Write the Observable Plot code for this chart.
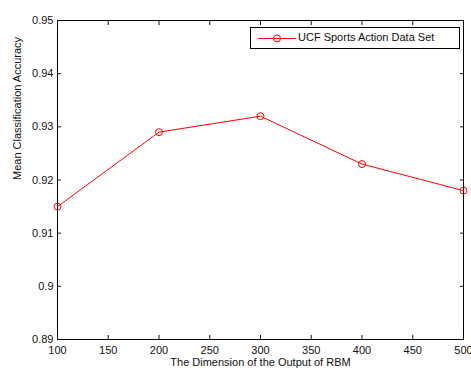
<!DOCTYPE html>
<html>
<head>
<meta charset="utf-8">
<script src="https://cdn.jsdelivr.net/npm/d3@7"></script>
<script src="https://cdn.jsdelivr.net/npm/@observablehq/plot@0.6"></script>
<style>
  html, body { margin: 0; padding: 0; background: #fff; }
  #wrap { position: relative; width: 471px; height: 371px; font-family: "Liberation Sans", Arial, sans-serif; }
  #legend { position: absolute; left: 250px; top: 27px; width: 208px; height: 20px; border: 1px solid #000; background: #fff; box-sizing: content-box; }
  #legend svg { position: absolute; left: 0; top: 0; }
  #legend span { position: absolute; left: 47px; top: 3px; font-size: 11px; color: #111; white-space: nowrap; }
</style>
</head>
<body>
<div id="wrap"></div>
<script>
const dims = [100, 200, 300, 400, 500];
const accuracy = [0.915, 0.929, 0.932, 0.923, 0.918];
const xTicks = [100, 150, 200, 250, 300, 350, 400, 450, 500];
const yTicks = [0.89, 0.9, 0.91, 0.92, 0.93, 0.94, 0.95];
const seriesName = "UCF Sports Action Data Set";
const xLabel = "The Dimension of the Output of RBM";
const yLabel = "Mean Classification Accuracy";

const data = dims.map((d, i) => ({dim: d, acc: accuracy[i]}));
const red = "#ff0000";

const chart = Plot.plot({
  width: 471,
  height: 371,
  marginLeft: 57,
  marginRight: 8,
  marginTop: 20,
  marginBottom: 32,
  style: {fontFamily: "Liberation Sans, Arial, sans-serif", fontSize: "11px", color: "#111", background: "#fff"},
  x: {domain: [100, 500]},
  y: {domain: [0.89, 0.95]},
  marks: [
    Plot.frame({stroke: "#000"}),
    Plot.axisX(xTicks, {anchor: "bottom", tickSize: -4, tickPadding: 11, tickFormat: d => String(d), label: null}),
    Plot.axisX(xTicks, {anchor: "top", tickSize: -4, tickFormat: () => "", label: null}),
    Plot.axisY(yTicks, {anchor: "left", tickSize: -4, tickPadding: 8, tickFormat: d => String(d), label: null}),
    Plot.axisY(yTicks, {anchor: "right", tickSize: -4, tickFormat: () => "", label: null}),
    Plot.text([xLabel], {frameAnchor: "bottom", dy: 26, fill: "#111", fontSize: 11}),
    Plot.text([yLabel], {frameAnchor: "left", dx: -40, rotate: -90, fill: "#111", fontSize: 11}),
    Plot.line(data, {x: "dim", y: "acc", stroke: red, strokeWidth: 1}),
    Plot.dot(data, {x: "dim", y: "acc", stroke: red, fill: "none", r: 3.5, strokeWidth: 1})
  ]
});

const wrap = document.getElementById("wrap");
wrap.appendChild(chart);

const legend = document.createElement("div");
legend.id = "legend";
legend.innerHTML = `<svg width="48" height="20"><line x1="7" x2="45" y1="10.5" y2="10.5" stroke="${red}" stroke-width="1"/><circle cx="26" cy="10.5" r="3.5" fill="none" stroke="${red}"/></svg><span></span>`;
legend.querySelector("span").textContent = seriesName;
wrap.appendChild(legend);
</script>
</body>
</html>
